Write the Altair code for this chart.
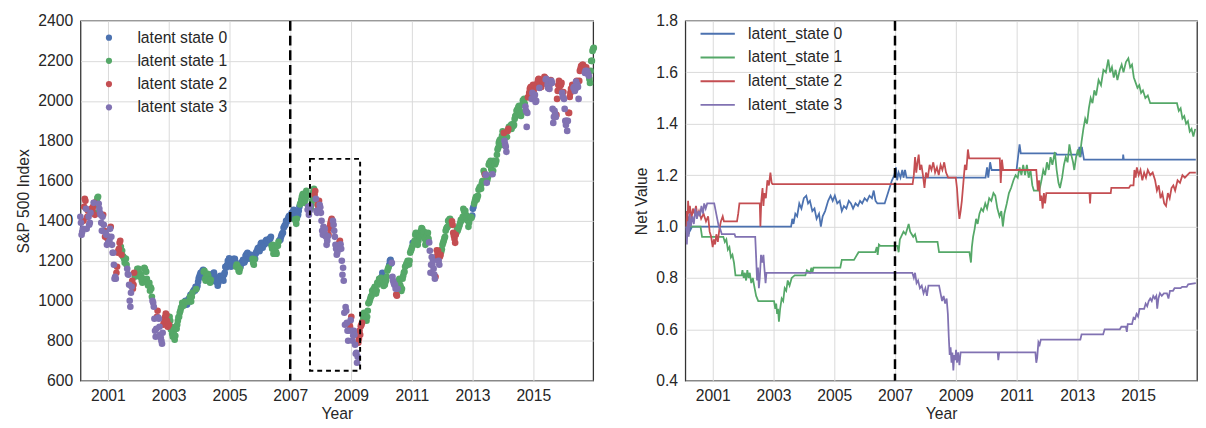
import altair as alt
import pandas as pd

STATES = ["latent state 0", "latent state 1", "latent state 2", "latent state 3"]
LINE_STATES = ["latent_state 0", "latent_state 1", "latent_state 2", "latent_state 3"]
COLORS = ["#4C72B0", "#55A868", "#C44E52", "#8172B2"]
X_TICKS = [2001, 2003, 2005, 2007, 2009, 2011, 2013, 2015]
SP_TICKS = [600, 800, 1000, 1200, 1400, 1600, 1800, 2000, 2200, 2400]
NV_TICKS = [0.4, 0.6, 0.8, 1.0, 1.2, 1.4, 1.6, 1.8]
SPLIT_YEAR = [2007.0]
BOX = {"x": [2007.65], "x2": [2009.30], "y": [650], "y2": [1710]}

# S&P 500 index: four readings per month (early, mid, swing, late); 2000 starts in February.
# ea_* = early readings, sp_* = mid / late readings, sw_* = intramonth swing readings;
# es_*, st_*, ws_* = latent state of each reading
ea_2000 = [1420, 1360, 1500, 1450, 1440, 1470, 1440, 1520, 1430, 1430, 1340]
es_2000 = "33223211323"
sw_2000 = [1330, 1470, 1360, 1380, 1440, 1490, 1500, 1460, 1350, 1350, 1280]
ws_2000 = "32332213323"
sp_2000 = [1390, 1345, 1400, 1510, 1460, 1420, 1420, 1390, 1460, 1455, 1490, 1430,
           1480, 1515, 1485, 1440, 1390, 1420, 1380, 1320, 1330, 1310]
st_2000 = "33 22 32 33 22 32 11 33 33 32 32"
ea_2001 = [1290, 1370, 1240, 1110, 1250, 1270, 1220, 1210, 1130, 1040, 1080, 1140]
es_2001 = "323321113321"
sw_2001 = [1300, 1280, 1110, 1170, 1290, 1250, 1190, 1160, 1000, 1100, 1120, 1160]
ws_2001 = "333221133211"
sp_2001 = [1320, 1360, 1320, 1240, 1180, 1120, 1140, 1240, 1260, 1300, 1230, 1224,
           1210, 1211, 1180, 1134, 1080, 970, 1070, 1060, 1140, 1139, 1130, 1148]
st_2001 = "23 33 33 22 22 21 11 13 33 32 21 11"
ea_2002 = [1160, 1120, 1110, 1145, 1080, 1060, 970, 860, 910, 800, 890, 930]
es_2002 = "111111333322"
sw_2002 = [1120, 1090, 1160, 1090, 1050, 1000, 850, 950, 830, 840, 920, 870]
ws_2002 = "111113323322"
sp_2002 = [1140, 1130, 1100, 1107, 1165, 1147, 1110, 1077, 1090, 1067, 1020, 990,
           910, 820, 920, 916, 870, 815, 785, 880, 900, 936, 900, 880]
st_2002 = "11 11 11 11 11 13 33 23 33 32 22 21"
ea_2003 = [880, 870, 830, 860, 920, 970, 985, 980, 1010, 1020, 1055, 1065]
es_2003 = "211111100100"
sw_2003 = [900, 820, 825, 900, 950, 985, 1000, 995, 1030, 1045, 1070, 1095]
ws_2003 = "111111010000"
sp_2003 = [920, 856, 835, 841, 805, 860, 880, 917, 940, 964, 990, 975,
           995, 990, 985, 1008, 1020, 996, 1040, 1051, 1050, 1058, 1075, 1112]
st_2003 = "11 11 11 11 11 11 10 00 11 10 01 00"
ea_2004 = [1120, 1140, 1150, 1120, 1100, 1120, 1125, 1095, 1110, 1115, 1140, 1180]
es_2004 = "001110000000"
sw_2004 = [1140, 1155, 1100, 1125, 1105, 1130, 1095, 1090, 1120, 1100, 1165, 1195]
ws_2004 = "001110000000"
sp_2004 = [1130, 1131, 1150, 1145, 1110, 1126, 1135, 1107, 1090, 1121, 1135, 1141,
           1105, 1102, 1075, 1104, 1125, 1115, 1110, 1130, 1170, 1174, 1200, 1212]
st_2004 = "00 01 11 11 10 00 00 00 00 00 00 00"
ea_2005 = [1200, 1180, 1210, 1175, 1160, 1195, 1200, 1240, 1215, 1210, 1210, 1260]
es_2005 = "000110000100"
sw_2005 = [1170, 1210, 1170, 1150, 1185, 1200, 1230, 1210, 1220, 1180, 1245, 1255]
ws_2005 = "001100000100"
sp_2005 = [1185, 1181, 1200, 1204, 1195, 1181, 1165, 1145, 1170, 1192, 1205, 1191,
           1225, 1234, 1230, 1220, 1230, 1229, 1190, 1207, 1235, 1249, 1265, 1248]
st_2005 = "00 00 01 11 00 00 00 00 00 11 00 00"
ea_2006 = [1270, 1265, 1290, 1295, 1310, 1280, 1270, 1275, 1305, 1340, 1380, 1410]
es_2006 = "000001110000"
sw_2006 = [1290, 1290, 1305, 1305, 1275, 1250, 1235, 1300, 1330, 1370, 1395, 1425]
ws_2006 = "000011100000"
sp_2006 = [1285, 1280, 1280, 1281, 1300, 1295, 1290, 1311, 1320, 1260, 1235, 1260,
           1245, 1277, 1295, 1304, 1320, 1336, 1365, 1378, 1400, 1401, 1420, 1418]
st_2006 = "00 00 00 00 01 11 11 10 00 00 00 00"
ea_2007 = [1415, 1445, 1400, 1430, 1490, 1535, 1515, 1470, 1460, 1545, 1510, 1470]
es_2007 = "001011131132"
sw_2007 = [1440, 1440, 1410, 1470, 1520, 1490, 1530, 1450, 1500, 1530, 1440, 1480]
ws_2007 = "001011131233"
sp_2007 = [1430, 1438, 1455, 1407, 1385, 1425, 1450, 1482, 1505, 1531, 1525, 1503,
           1550, 1455, 1430, 1474, 1480, 1527, 1560, 1549, 1450, 1481, 1500, 1468]
st_2007 = "00 01 10 01 11 11 13 33 11 12 32 23"
ea_2008 = [1440, 1370, 1320, 1330, 1400, 1380, 1260, 1270, 1260, 1100, 950, 850]
es_2008 = "333223333333"
sw_2008 = [1350, 1360, 1300, 1370, 1390, 1320, 1240, 1300, 1130, 880, 850, 870]
ws_2008 = "333223323332"
sp_2008 = [1400, 1330, 1350, 1331, 1280, 1323, 1360, 1386, 1410, 1400, 1350, 1280,
           1230, 1267, 1290, 1283, 1200, 1165, 940, 969, 890, 800, 880, 903]
st_2008 = "33 33 33 22 23 33 32 23 33 33 33 23"
ea_2009 = [920, 850, 740, 810, 880, 940, 900, 990, 1025, 1060, 1050, 1110]
es_2009 = "233221111111"
sw_2009 = [800, 780, 720, 830, 900, 910, 950, 1010, 1040, 1050, 1080, 1100]
ws_2009 = "333211111111"
sp_2009 = [850, 826, 830, 735, 690, 790, 850, 873, 890, 919, 930, 919,
           920, 987, 1000, 1021, 1050, 1057, 1070, 1036, 1090, 1096, 1105, 1115]
st_2009 = "33 33 32 22 21 11 11 11 11 11 11 11"
ea_2010 = [1120, 1090, 1120, 1180, 1190, 1080, 1025, 1110, 1060, 1145, 1190, 1200]
es_2010 = "011033211111"
sw_2010 = [1100, 1095, 1160, 1205, 1100, 1060, 1090, 1070, 1125, 1175, 1195, 1250]
ws_2010 = "111033111111"
sp_2010 = [1140, 1074, 1080, 1104, 1150, 1169, 1200, 1187, 1120, 1089, 1080, 1031,
           1060, 1102, 1080, 1049, 1110, 1141, 1170, 1183, 1200, 1181, 1240, 1258]
st_2010 = "01 11 11 00 33 32 31 11 11 11 11 11"
ea_2011 = [1270, 1300, 1320, 1330, 1360, 1310, 1330, 1250, 1180, 1110, 1230, 1220]
es_2011 = "111111133322"
sw_2011 = [1280, 1340, 1300, 1350, 1330, 1295, 1310, 1180, 1160, 1210, 1200, 1245]
ws_2011 = "111111133231"
sp_2011 = [1290, 1286, 1330, 1327, 1280, 1326, 1320, 1364, 1340, 1345, 1280, 1321,
           1340, 1292, 1140, 1219, 1200, 1131, 1120, 1253, 1250, 1180, 1230, 1258]
st_2011 = "01 11 11 11 11 11 13 33 33 22 23 21"
ea_2012 = [1280, 1320, 1370, 1410, 1380, 1290, 1350, 1390, 1420, 1450, 1400, 1410]
es_2012 = "111122111111"
sw_2012 = [1300, 1360, 1395, 1390, 1325, 1340, 1370, 1400, 1450, 1420, 1390, 1415]
ws_2012 = "111121111111"
sp_2012 = [1290, 1312, 1350, 1366, 1400, 1408, 1380, 1398, 1340, 1310, 1330, 1362,
           1360, 1379, 1405, 1407, 1460, 1441, 1430, 1412, 1370, 1416, 1420, 1426]
st_2012 = "11 11 11 12 22 21 11 11 11 11 11 10"
ea_2013 = [1460, 1510, 1525, 1570, 1600, 1630, 1620, 1700, 1650, 1690, 1765, 1800]
es_2013 = "011113111111"
sw_2013 = [1485, 1505, 1560, 1585, 1640, 1590, 1690, 1650, 1690, 1730, 1800, 1825]
ws_2013 = "111113111111"
sp_2013 = [1470, 1498, 1520, 1515, 1555, 1569, 1560, 1598, 1650, 1631, 1630, 1606,
           1680, 1686, 1660, 1633, 1700, 1682, 1700, 1757, 1790, 1806, 1780, 1848]
st_2013 = "01 11 11 11 12 31 11 13 11 11 11 11"
ea_2014 = [1830, 1770, 1860, 1880, 1875, 1925, 1970, 1925, 2000, 1950, 2020, 2070]
es_2014 = "132111111322"
sw_2014 = [1800, 1820, 1865, 1870, 1910, 1955, 1950, 1980, 1985, 1940, 2060, 2040]
ws_2014 = "311111111323"
sp_2014 = [1840, 1783, 1745, 1850, 1870, 1872, 1860, 1884, 1880, 1924, 1950, 1960,
           1975, 1931, 1940, 2003, 2010, 1972, 1870, 2018, 2040, 2068, 2010, 2080]
st_2014 = "23 32 11 11 11 11 11 11 13 32 22 32"
ea_2015 = [2050, 2000, 2110, 2070, 2090, 2110, 2075, 2100, 1920, 1930, 2100, 2090]
es_2015 = "232223333222"
sw_2015 = [2030, 2090, 2080, 2095, 2115, 2080, 2085, 1960, 1935, 2050, 2090, 2020]
ws_2015 = "322223233223"
sp_2015 = [2010, 1995, 2070, 2105, 2065, 2068, 2100, 2086, 2120, 2107, 2095, 2063,
           2060, 2104, 2090, 1890, 1950, 1920, 2010, 2079, 2070, 2080, 2040, 2044]
st_2015 = "33 22 32 22 23 23 32 33 33 22 22 32"
ea_2016 = [2010, 1900, 1940, 2060, 2070, 2100, 2100, 2170, 2170, 2150, 2110, 2200]
es_2016 = "332232222311"
sw_2016 = [1900, 1900, 2040, 2075, 2060, 2070, 2160, 2180, 2150, 2135, 2150, 2260]
ws_2016 = "332233223311"
sp_2016 = [1960, 1880, 1850, 1940, 2020, 2060, 2080, 2065, 2050, 2097, 2080, 2010,
           2150, 2174, 2180, 2171, 2140, 2168, 2140, 2126, 2090, 2200, 2250, 2265]
st_2016 = "33 32 22 23 33 33 22 22 32 33 11 11"

# Net value of each latent-state strategy: (year, value) readings
nv_state0 = [(2000.13, 1.00), (2000.16, 0.96), (2000.19, 1.04), (2000.22, 0.97), (2000.25, 1.03), (2000.28, 0.99),
             (2000.32, 1.00), (2003.58, 1.00), (2003.62, 1.03), (2003.66, 1.01), (2003.72, 1.05), (2003.78, 1.04),
             (2003.85, 1.09), (2003.92, 1.07), (2004.0, 1.11), (2004.08, 1.12), (2004.14, 1.09), (2004.2, 1.10),
             (2004.28, 1.06), (2004.35, 1.07), (2004.42, 1.03), (2004.5, 1.05), (2004.56, 1.00), (2004.62, 1.04),
             (2004.7, 1.06), (2004.8, 1.10), (2004.88, 1.12), (2004.95, 1.10), (2005.02, 1.12), (2005.1, 1.09),
             (2005.18, 1.10), (2005.25, 1.06), (2005.32, 1.08), (2005.4, 1.07), (2005.48, 1.10), (2005.55, 1.09),
             (2005.62, 1.07), (2005.7, 1.09), (2005.78, 1.08), (2005.85, 1.10), (2005.92, 1.09), (2006.0, 1.11),
             (2006.08, 1.10), (2006.16, 1.12), (2006.24, 1.11), (2006.3, 1.14), (2006.36, 1.10), (2006.42, 1.09),
             (2006.66, 1.09), (2006.74, 1.12), (2006.82, 1.15), (2006.9, 1.18), (2006.98, 1.20), (2007.03, 1.23),
             (2007.07, 1.18), (2007.12, 1.21), (2007.18, 1.19), (2007.24, 1.22), (2007.28, 1.19), (2007.33, 1.22),
             (2007.38, 1.19), (2009.98, 1.19), (2010.03, 1.23), (2010.07, 1.19), (2010.13, 1.25), (2010.18, 1.22),
             (2011.0, 1.22), (2011.05, 1.27), (2011.1, 1.32), (2011.14, 1.285), (2012.3, 1.285), (2012.32, 1.28),
             (2013.02, 1.28), (2013.07, 1.31), (2013.11, 1.27), (2013.15, 1.31), (2013.22, 1.26), (2014.5, 1.26),
             (2014.51, 1.28), (2014.53, 1.26), (2016.9, 1.26)]
nv_state1 = [(2000.13, 1.00), (2000.6, 1.00), (2000.65, 0.96), (2001.35, 0.96), (2001.4, 0.94), (2001.45, 0.95),
             (2001.5, 0.91), (2001.55, 0.92), (2001.6, 0.88), (2001.65, 0.89), (2001.7, 0.86), (2001.75, 0.81),
             (2001.95, 0.81), (2001.98, 0.83), (2002.02, 0.80), (2002.06, 0.82), (2002.1, 0.79), (2002.14, 0.83),
             (2002.18, 0.80), (2002.22, 0.82), (2002.27, 0.78), (2002.32, 0.80), (2002.38, 0.76), (2002.43, 0.73),
             (2002.5, 0.71), (2003.02, 0.71), (2003.06, 0.68), (2003.09, 0.70), (2003.12, 0.66), (2003.15, 0.68),
             (2003.18, 0.63), (2003.22, 0.68), (2003.27, 0.72), (2003.32, 0.71), (2003.37, 0.76), (2003.42, 0.75),
             (2003.47, 0.79), (2003.53, 0.77), (2003.6, 0.80), (2003.7, 0.81), (2004.05, 0.81), (2004.1, 0.83),
             (2004.2, 0.82), (2004.25, 0.84), (2004.28, 0.82), (2004.32, 0.84), (2005.2, 0.84), (2005.25, 0.87),
             (2005.65, 0.87), (2005.7, 0.88), (2005.8, 0.90), (2006.35, 0.90), (2006.4, 0.92), (2006.43, 0.89),
             (2006.47, 0.93), (2006.52, 0.925), (2007.08, 0.925), (2007.12, 0.90), (2007.16, 0.95), (2007.2, 0.96),
             (2007.28, 0.98), (2007.35, 0.97), (2007.45, 1.01), (2007.5, 0.98), (2007.55, 0.97), (2007.6, 0.96),
             (2007.66, 0.97), (2007.72, 0.94), (2008.4, 0.94), (2008.45, 0.90), (2009.45, 0.90), (2009.5, 0.86),
             (2009.53, 0.92), (2009.57, 0.96), (2009.62, 0.99), (2009.67, 1.03), (2009.72, 1.01), (2009.78, 1.05),
             (2009.84, 1.07), (2009.9, 1.06), (2009.97, 1.09), (2010.03, 1.07), (2010.1, 1.11), (2010.17, 1.10),
             (2010.24, 1.13), (2010.3, 1.12), (2010.37, 1.07), (2010.44, 1.04), (2010.5, 1.06), (2010.55, 1.00),
             (2010.6, 1.05), (2010.68, 1.09), (2010.75, 1.13), (2010.82, 1.15), (2010.9, 1.18), (2010.97, 1.20),
             (2011.04, 1.19), (2011.1, 1.23), (2011.16, 1.20), (2011.22, 1.24), (2011.28, 1.20), (2011.34, 1.24),
             (2011.4, 1.19), (2011.46, 1.22), (2011.52, 1.16), (2011.57, 1.14), (2011.75, 1.14), (2011.82, 1.18),
             (2011.88, 1.22), (2011.94, 1.20), (2012.0, 1.25), (2012.06, 1.22), (2012.12, 1.27), (2012.18, 1.24),
             (2012.26, 1.29), (2012.32, 1.22), (2012.38, 1.17), (2012.43, 1.15), (2012.5, 1.19), (2012.56, 1.24),
             (2012.62, 1.27), (2012.68, 1.25), (2012.74, 1.32), (2012.8, 1.28), (2012.86, 1.25), (2012.9, 1.22),
             (2012.96, 1.27), (2013.02, 1.30), (2013.08, 1.27), (2013.14, 1.33), (2013.2, 1.38), (2013.26, 1.42),
             (2013.32, 1.40), (2013.38, 1.46), (2013.44, 1.50), (2013.5, 1.48), (2013.56, 1.53), (2013.62, 1.51),
             (2013.7, 1.57), (2013.78, 1.55), (2013.86, 1.61), (2013.94, 1.60), (2014.02, 1.65), (2014.08, 1.60),
             (2014.14, 1.62), (2014.2, 1.58), (2014.26, 1.61), (2014.32, 1.57), (2014.4, 1.61), (2014.46, 1.63),
             (2014.52, 1.60), (2014.6, 1.64), (2014.68, 1.655), (2014.74, 1.62), (2014.8, 1.63), (2014.86, 1.58),
             (2014.92, 1.56), (2014.98, 1.54), (2015.04, 1.55), (2015.1, 1.52), (2015.16, 1.53), (2015.24, 1.50),
             (2015.32, 1.51), (2015.4, 1.48), (2016.28, 1.48), (2016.34, 1.45), (2016.4, 1.46), (2016.46, 1.42),
             (2016.52, 1.43), (2016.58, 1.40), (2016.64, 1.41), (2016.7, 1.37), (2016.76, 1.38), (2016.82, 1.35),
             (2016.88, 1.38)]
nv_state2 = [(2000.13, 1.00), (2000.15, 1.06), (2000.17, 0.99), (2000.19, 1.10), (2000.22, 1.05), (2000.25, 1.08),
             (2000.3, 1.03), (2000.35, 1.07), (2000.4, 1.05), (2000.45, 1.08), (2000.5, 1.04), (2000.55, 1.06),
             (2000.62, 1.03), (2000.7, 1.05), (2000.78, 1.02), (2000.85, 1.04), (2000.9, 0.98), (2000.95, 0.96),
             (2001.0, 0.92), (2001.04, 0.95), (2001.08, 0.93), (2001.12, 0.97), (2001.17, 0.94), (2001.22, 0.99),
             (2001.27, 1.02), (2001.33, 1.04), (2001.37, 1.02), (2001.8, 1.02), (2001.84, 1.05), (2001.88, 1.09),
             (2002.55, 1.09), (2002.57, 1.00), (2002.6, 1.10), (2002.64, 1.15), (2002.67, 1.08), (2002.7, 1.13),
             (2002.75, 1.11), (2002.8, 1.18), (2002.85, 1.16), (2002.9, 1.21), (2002.94, 1.17), (2002.97, 1.165),
             (2007.58, 1.165), (2007.62, 1.20), (2007.66, 1.27), (2007.7, 1.21), (2007.74, 1.25), (2007.78, 1.28),
             (2007.82, 1.22), (2007.87, 1.24), (2007.92, 1.20), (2007.97, 1.15), (2008.02, 1.21), (2008.08, 1.19),
             (2008.14, 1.24), (2008.2, 1.22), (2008.26, 1.25), (2008.32, 1.21), (2008.38, 1.23), (2008.44, 1.20),
             (2008.5, 1.24), (2008.56, 1.22), (2008.62, 1.25), (2008.68, 1.21), (2008.75, 1.19), (2009.0, 1.19),
             (2009.04, 1.15), (2009.08, 1.08), (2009.12, 1.03), (2009.16, 1.06), (2009.2, 1.10), (2009.25, 1.17),
             (2009.3, 1.24), (2009.35, 1.22), (2009.4, 1.30), (2009.44, 1.265), (2010.45, 1.265), (2010.48, 1.17),
             (2010.52, 1.26), (2010.56, 1.22), (2011.65, 1.22), (2011.7, 1.14), (2011.74, 1.18), (2011.78, 1.10),
             (2011.82, 1.12), (2011.86, 1.07), (2011.9, 1.13), (2011.94, 1.09), (2011.98, 1.13), (2013.4, 1.13),
             (2013.42, 1.09), (2013.44, 1.13), (2014.1, 1.13), (2014.12, 1.15), (2014.7, 1.15), (2014.75, 1.16),
             (2014.85, 1.16), (2014.88, 1.22), (2014.92, 1.19), (2014.96, 1.23), (2015.02, 1.20), (2015.08, 1.22),
             (2015.14, 1.18), (2015.2, 1.21), (2015.26, 1.19), (2015.32, 1.22), (2015.4, 1.20), (2015.48, 1.21),
             (2015.56, 1.18), (2015.62, 1.14), (2015.68, 1.16), (2015.74, 1.11), (2015.8, 1.13), (2015.86, 1.09),
             (2015.92, 1.08), (2015.98, 1.13), (2016.04, 1.11), (2016.1, 1.15), (2016.16, 1.16), (2016.22, 1.14),
             (2016.3, 1.18), (2016.38, 1.17), (2016.46, 1.20), (2016.54, 1.19), (2016.62, 1.20), (2016.7, 1.21),
             (2016.9, 1.21)]
nv_state3 = [(2000.13, 1.00), (2000.15, 0.93), (2000.18, 1.02), (2000.21, 0.96), (2000.24, 1.05), (2000.28, 1.00),
             (2000.33, 1.04), (2000.38, 1.01), (2000.43, 1.07), (2000.48, 1.03), (2000.53, 1.06), (2000.58, 1.04),
             (2000.63, 1.08), (2000.68, 1.05), (2000.72, 1.09), (2000.77, 1.07), (2000.82, 1.09), (2001.05, 1.09),
             (2001.1, 1.06), (2001.15, 1.03), (2001.2, 1.00), (2001.25, 0.99), (2001.3, 0.97), (2001.72, 0.97),
             (2001.75, 0.96), (2002.4, 0.96), (2002.43, 0.88), (2002.46, 0.79), (2002.49, 0.84), (2002.52, 0.76),
             (2002.55, 0.80), (2002.59, 0.89), (2002.63, 0.86), (2002.67, 0.89), (2002.7, 0.84), (2002.74, 0.78),
             (2002.77, 0.82), (2007.57, 0.82), (2007.62, 0.80), (2007.66, 0.82), (2007.71, 0.78), (2007.76, 0.79),
             (2007.82, 0.76), (2007.88, 0.77), (2007.94, 0.74), (2008.0, 0.76), (2008.05, 0.73), (2008.1, 0.77),
             (2008.45, 0.77), (2008.5, 0.74), (2008.55, 0.71), (2008.6, 0.73), (2008.65, 0.70), (2008.7, 0.72),
             (2008.74, 0.66), (2008.77, 0.57), (2008.8, 0.50), (2008.83, 0.53), (2008.86, 0.47), (2008.89, 0.51),
             (2008.92, 0.44), (2008.95, 0.50), (2008.98, 0.48), (2009.01, 0.52), (2009.04, 0.47), (2009.08, 0.51),
             (2009.12, 0.46), (2009.16, 0.51), (2010.38, 0.51), (2010.4, 0.48), (2010.43, 0.51), (2011.62, 0.51),
             (2011.65, 0.47), (2011.68, 0.49), (2011.72, 0.55), (2011.76, 0.54), (2011.8, 0.56), (2013.1, 0.56),
             (2013.14, 0.58), (2013.85, 0.58), (2013.9, 0.60), (2014.4, 0.60), (2014.45, 0.61), (2014.6, 0.61),
             (2014.63, 0.59), (2014.66, 0.62), (2014.8, 0.62), (2014.85, 0.645), (2014.9, 0.64), (2014.95, 0.66),
             (2015.0, 0.65), (2015.05, 0.68), (2015.2, 0.68), (2015.25, 0.70), (2015.3, 0.69), (2015.35, 0.71),
             (2015.4, 0.72), (2015.45, 0.71), (2015.5, 0.73), (2015.55, 0.72), (2015.6, 0.73), (2015.63, 0.68),
             (2015.67, 0.72), (2015.72, 0.74), (2015.78, 0.73), (2015.85, 0.74), (2015.95, 0.74), (2016.0, 0.72),
             (2016.05, 0.75), (2016.15, 0.75), (2016.2, 0.76), (2016.4, 0.76), (2016.45, 0.765), (2016.6, 0.765),
             (2016.65, 0.775), (2016.9, 0.78)]

FONT = "Liberation Sans"
TEXT = "#262626"

# ---- build tables ----
sp_years = [
    (2000, ea_2000, es_2000, sw_2000, ws_2000, sp_2000, st_2000, 1),
    (2001, ea_2001, es_2001, sw_2001, ws_2001, sp_2001, st_2001, 0),
    (2002, ea_2002, es_2002, sw_2002, ws_2002, sp_2002, st_2002, 0),
    (2003, ea_2003, es_2003, sw_2003, ws_2003, sp_2003, st_2003, 0),
    (2004, ea_2004, es_2004, sw_2004, ws_2004, sp_2004, st_2004, 0),
    (2005, ea_2005, es_2005, sw_2005, ws_2005, sp_2005, st_2005, 0),
    (2006, ea_2006, es_2006, sw_2006, ws_2006, sp_2006, st_2006, 0),
    (2007, ea_2007, es_2007, sw_2007, ws_2007, sp_2007, st_2007, 0),
    (2008, ea_2008, es_2008, sw_2008, ws_2008, sp_2008, st_2008, 0),
    (2009, ea_2009, es_2009, sw_2009, ws_2009, sp_2009, st_2009, 0),
    (2010, ea_2010, es_2010, sw_2010, ws_2010, sp_2010, st_2010, 0),
    (2011, ea_2011, es_2011, sw_2011, ws_2011, sp_2011, st_2011, 0),
    (2012, ea_2012, es_2012, sw_2012, ws_2012, sp_2012, st_2012, 0),
    (2013, ea_2013, es_2013, sw_2013, ws_2013, sp_2013, st_2013, 0),
    (2014, ea_2014, es_2014, sw_2014, ws_2014, sp_2014, st_2014, 0),
    (2015, ea_2015, es_2015, sw_2015, ws_2015, sp_2015, st_2015, 0),
    (2016, ea_2016, es_2016, sw_2016, ws_2016, sp_2016, st_2016, 0),
]
rows = []
for year, early, e_st, swing, w_st, vals, sts, m0 in sp_years:
    codes = sts.replace(" ", "")
    for m in range(len(early)):
        month = m0 + m
        quad = [(early[m], e_st[m]), (vals[2 * m], codes[2 * m]),
                (swing[m], w_st[m]), (vals[2 * m + 1], codes[2 * m + 1])]
        for j, (v, s) in enumerate(quad):
            rows.append({"t": year + (4 * month + j + 0.5) / 48.0, "sp": v,
                         "state": STATES[int(s)], "k": int(s)})
df_sp = pd.DataFrame(rows).sort_values("k", kind="stable").reset_index(drop=True)

line_rows = []
for k, series in enumerate([nv_state0, nv_state1, nv_state2, nv_state3]):
    for t, v in series:
        line_rows.append({"t": t, "nv": v, "state": LINE_STATES[k], "k": k})
df_nv = pd.DataFrame(line_rows)

PLOT_H = 367

# ---- left panel ----
xl_scale = alt.Scale(domain=[2000.10, 2016.97], nice=False, zero=False)
yl_scale = alt.Scale(domain=[600, 2400], nice=False, zero=False)
x_axis = alt.Axis(values=X_TICKS, format="d", title="Year")
yl_axis = alt.Axis(values=SP_TICKS, format="d", title="S&P 500 Index")

points = alt.Chart(df_sp).mark_circle(size=46, opacity=1).encode(
    x=alt.X("t:Q", scale=xl_scale, axis=x_axis),
    y=alt.Y("sp:Q", scale=yl_scale, axis=yl_axis),
    color=alt.Color("state:N", scale=alt.Scale(domain=STATES, range=COLORS),
                    legend=alt.Legend(title=None, orient="none", legendX=21, legendY=9,
                                      symbolType="circle", symbolSize=40, labelOffset=21,
                                      rowPadding=7.7, padding=0)),
    order=alt.Order("k:Q"),
)
split_l = alt.Chart(pd.DataFrame({"t": SPLIT_YEAR})).mark_rule(
    color="black", strokeWidth=2.5, strokeDash=[10, 5]
).encode(x=alt.X("t:Q", scale=xl_scale, axis=x_axis))
box = alt.Chart(pd.DataFrame(BOX)).mark_rect(
    filled=False, stroke="black", strokeWidth=2, strokeDash=[5, 4]
).encode(
    x=alt.X("x:Q", scale=xl_scale, axis=x_axis), x2="x2:Q",
    y=alt.Y("y:Q", scale=yl_scale, axis=yl_axis), y2="y2:Q",
)
left = alt.layer(points, split_l, box).properties(width=523, height=PLOT_H)

# ---- right panel ----
xr_scale = alt.Scale(domain=[2000.10, 2016.94], nice=False, zero=False)
yr_scale = alt.Scale(domain=[0.4, 1.8], nice=False, zero=False)
yr_axis = alt.Axis(values=NV_TICKS, format=".1f", title="Net Value")

lines = alt.Chart(df_nv).mark_line(strokeWidth=1.8, clip=True).encode(
    x=alt.X("t:Q", scale=xr_scale, axis=x_axis),
    y=alt.Y("nv:Q", scale=yr_scale, axis=yr_axis),
    color=alt.Color("state:N", scale=alt.Scale(domain=LINE_STATES, range=COLORS),
                    legend=alt.Legend(title=None, orient="none", legendX=25, legendY=5,
                                      symbolType="M-3,0H3", symbolSize=136, symbolStrokeWidth=2,
                                      labelOffset=23, rowPadding=8.2, padding=0)),
    detail="k:N",
)
split_r = alt.Chart(pd.DataFrame({"t": SPLIT_YEAR})).mark_rule(
    color="black", strokeWidth=2.5, strokeDash=[10, 5]
).encode(x=alt.X("t:Q", scale=xr_scale, axis=x_axis))
right = alt.layer(lines, split_r).properties(width=522, height=PLOT_H)

chart = alt.hconcat(left, right, spacing=36).resolve_scale(
    color="independent", x="independent", y="independent"
).resolve_legend(color="independent").properties(
    padding={"left": 7, "top": 0, "right": 0, "bottom": 0},
    background="white",
).configure_axis(
    labelFont=FONT, labelFontSize=16, labelColor=TEXT,
    titleFont=FONT, titleFontSize=16, titleColor=TEXT, titleFontWeight="normal",
    gridColor="#d9d9d9", gridWidth=1, ticks=False, domain=False,
).configure_axisX(titlePadding=3, labelPadding=7).configure_axisY(titlePadding=6, labelPadding=8).configure_view(
    stroke="#333333", strokeWidth=1.3
).configure_legend(
    labelFont=FONT, labelFontSize=16, labelColor=TEXT, labelLimit=300,
)

chart.save("out.html", embed_options={"renderer": "svg", "actions": False})
